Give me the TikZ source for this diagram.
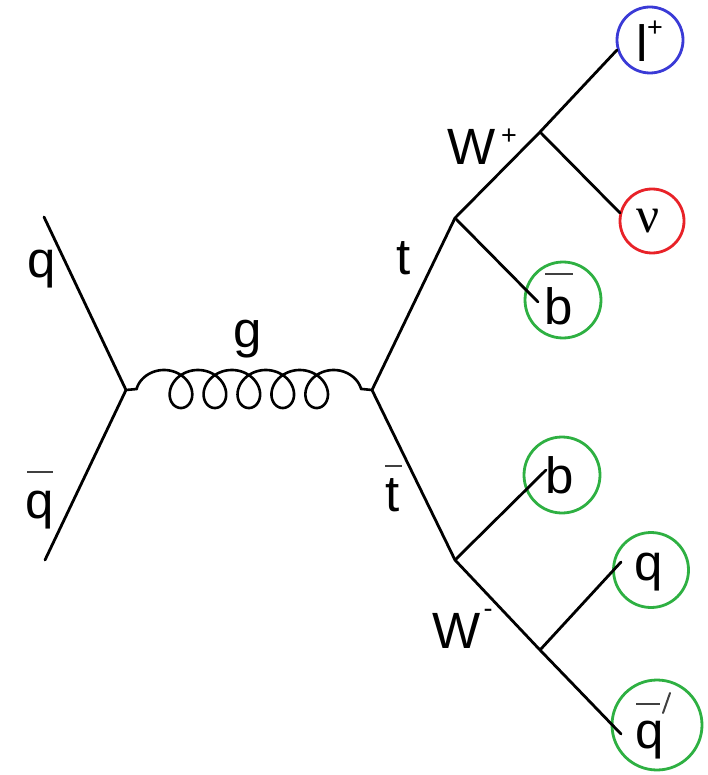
\documentclass[tikz,border=0pt]{standalone}
\usepackage{fontspec}
\setmainfont{Liberation Sans}
\newfontfamily\greekserif{Liberation Serif}
\definecolor{leptonblue}{RGB}{58,58,214}
\definecolor{nured}{RGB}{232,34,40}
\definecolor{jetgreen}{RGB}{46,176,66}
\begin{document}
\begin{tikzpicture}[x=1pt,y=-1pt,
  line width=2.8pt, line cap=round,
  lbl/.style={anchor=base, inner sep=0pt, font=\fontsize{51}{51}\selectfont},
  sup/.style={anchor=center, inner sep=0pt, font=\fontsize{27}{27}\selectfont},
  ring/.style={circle, draw, line width=2.8pt, inner sep=0pt, minimum size=#1},
  barline/.style={line width=2pt, line cap=butt, black!75}]
\useasboundingbox (0,0) rectangle (707,775);

% vertices
\coordinate (qin)  at (44,217);
\coordinate (qbin) at (45,560);
\coordinate (v1)   at (126,390);
\coordinate (v2)   at (372,390);
\coordinate (vt)   at (455,218);
\coordinate (vtb)  at (455,560);
\coordinate (wp)   at (540,132);
\coordinate (wm)   at (540,650);

% line ends inside the circles
\coordinate (elp)  at (617,50);
\coordinate (enu)  at (620,213);
\coordinate (ebb)  at (538,302);
\coordinate (eb)   at (546,470);
\coordinate (eq)   at (621,562);
\coordinate (eqb)  at (621,734);

% particle circles
\node[ring=66pt, draw=leptonblue] (clp) at (650,40) {};
\node[ring=64pt, draw=nured]      (cnu) at (652,221) {};
\node[ring=76pt, draw=jetgreen]   (cbb) at (563,300) {};
\node[ring=76pt, draw=jetgreen]   (cb)  at (562,475) {};
\node[ring=75pt, draw=jetgreen]   (cq)  at (651,570) {};
\node[ring=90pt, draw=jetgreen]   (cqb) at (657,725) {};

% fermion lines
\draw (qin) -- (v1) -- (qbin);
\draw (v2) -- (vt) -- (wp) -- (elp);
\draw (wp) -- (enu);
\draw (vt) -- (ebb);
\draw (v2) -- (vtb) -- (wm) -- (eqb);
\draw (vtb) -- (eb);
\draw (wm) -- (eq);

% gluon: a prolate cycloid with five loops
\coordinate (gs) at (137,389);
\coordinate (ge) at (362,389);
\draw[line width=2.6pt] (v1) -- (gs)
  plot[domain=-pi/2:10.5*pi, samples=500, smooth]
  ({164+5.4*\x+19*sin(\x r)}, {389-19*cos(\x r)})
  -- (v2);

% labels
\node[lbl] (lq)  at (42,277)  {q};
\node[lbl] (lqb) at (40,518)  {q};
\draw[barline] (27,472) -- (53,472);
\node[lbl] (lg)  at (248,347) {g};
\node[lbl] (lt)  at (404,274) {t};
\node[lbl] (ltb) at (393,511) {t};
\draw[barline] (385,466) -- (402,466);
\node[lbl] (lwp) at (472,165) {W};
\node[sup] (lwps) at (509,137) {+};
\node[lbl] (lwm) at (457,648) {W};
\node[sup] (lwms) at (488,613) {-};

\node[lbl] (tlp) at (642,62) {l};
\node[sup] (tlps) at (655,29) {+};
\node[lbl, font=\fontsize{51}{51}\selectfont\greekserif] (tnu) at (648,233) {ν};
\node[lbl] (tbb) at (559,324) {b};
\draw[barline] (545,274) -- (573,274);
\node[lbl] (tb)  at (560,493) {b};
\node[lbl] (tq)  at (649,580) {q};
\node[lbl] (tqb) at (650,748) {q};
\draw[barline] (636,704) -- (660,704);
\draw[line width=2pt, black!75] (663,713) -- (670,693);
\end{tikzpicture}
\end{document}
